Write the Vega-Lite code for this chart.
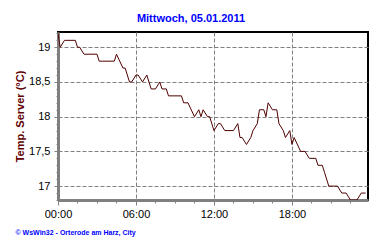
{
  "$schema": "https://vega.github.io/schema/vega-lite/v6.json",
  "width": 310,
  "height": 168,
  "autosize": {"type": "none"},
  "padding": {"left": 58, "top": 32, "right": 12, "bottom": 45},
  "background": "white",
  "title": {
    "text": "Mittwoch, 05.01.2011",
    "color": "#0000FF",
    "font": "Liberation Sans",
    "fontSize": 11,
    "fontWeight": "bold",
    "anchor": "middle",
    "frame": "group",
    "dx": -22,
    "dy": 16,
    "offset": 10,
    "baseline": "alphabetic"
  },
  "config": {"view": {"stroke": "#000000", "strokeWidth": 2}},
  "data": {
    "values": [
      {"min": 0, "temp": 19.2},
      {"min": 10, "temp": 19.0},
      {"min": 30, "temp": 19.1},
      {"min": 80, "temp": 19.1},
      {"min": 90, "temp": 19.0},
      {"min": 100, "temp": 19.0},
      {"min": 120, "temp": 18.9},
      {"min": 180, "temp": 18.9},
      {"min": 190, "temp": 18.8},
      {"min": 260, "temp": 18.8},
      {"min": 270, "temp": 18.9},
      {"min": 300, "temp": 18.7},
      {"min": 310, "temp": 18.7},
      {"min": 330, "temp": 18.5},
      {"min": 340, "temp": 18.5},
      {"min": 360, "temp": 18.6},
      {"min": 370, "temp": 18.6},
      {"min": 390, "temp": 18.5},
      {"min": 410, "temp": 18.6},
      {"min": 430, "temp": 18.4},
      {"min": 450, "temp": 18.4},
      {"min": 470, "temp": 18.5},
      {"min": 480, "temp": 18.4},
      {"min": 500, "temp": 18.4},
      {"min": 510, "temp": 18.3},
      {"min": 570, "temp": 18.3},
      {"min": 580, "temp": 18.2},
      {"min": 600, "temp": 18.2},
      {"min": 630, "temp": 18.0},
      {"min": 650, "temp": 18.1},
      {"min": 660, "temp": 18.0},
      {"min": 670, "temp": 18.1},
      {"min": 690, "temp": 18.0},
      {"min": 700, "temp": 18.0},
      {"min": 720, "temp": 17.8},
      {"min": 740, "temp": 17.9},
      {"min": 750, "temp": 17.9},
      {"min": 770, "temp": 17.8},
      {"min": 810, "temp": 17.8},
      {"min": 830, "temp": 17.9},
      {"min": 840, "temp": 17.7},
      {"min": 850, "temp": 17.7},
      {"min": 870, "temp": 17.6},
      {"min": 890, "temp": 17.7},
      {"min": 900, "temp": 17.8},
      {"min": 920, "temp": 17.9},
      {"min": 930, "temp": 18.1},
      {"min": 950, "temp": 18.1},
      {"min": 960, "temp": 18.0},
      {"min": 970, "temp": 18.2},
      {"min": 990, "temp": 18.1},
      {"min": 1010, "temp": 18.1},
      {"min": 1020, "temp": 17.9},
      {"min": 1040, "temp": 17.8},
      {"min": 1050, "temp": 17.7},
      {"min": 1070, "temp": 17.8},
      {"min": 1080, "temp": 17.6},
      {"min": 1090, "temp": 17.7},
      {"min": 1120, "temp": 17.5},
      {"min": 1140, "temp": 17.5},
      {"min": 1160, "temp": 17.4},
      {"min": 1190, "temp": 17.4},
      {"min": 1200, "temp": 17.3},
      {"min": 1220, "temp": 17.3},
      {"min": 1230, "temp": 17.2},
      {"min": 1250, "temp": 17.0},
      {"min": 1290, "temp": 17.0},
      {"min": 1310, "temp": 16.9},
      {"min": 1330, "temp": 16.9},
      {"min": 1350, "temp": 16.8},
      {"min": 1380, "temp": 16.8},
      {"min": 1400, "temp": 16.9},
      {"min": 1420, "temp": 16.9}
    ]
  },
  "mark": {"type": "line", "color": "#500000", "strokeWidth": 1, "clip": true},
  "encoding": {
    "x": {
      "field": "min",
      "type": "quantitative",
      "scale": {"domain": [0, 1431], "nice": false, "zero": false},
      "axis": {
        "values": [0, 90, 180, 270, 360, 450, 540, 630, 720, 810, 900, 990, 1080, 1170, 1260, 1350],
        "labelExpr": "datum.value % 360 == 0 ? (datum.value < 600 ? '0' : '') + (datum.value / 60) + ':00' : ''",
        "labelFont": "Liberation Sans",
        "labelFontSize": 11,
        "labelColor": "#000000",
        "labelPadding": 3,
        "labelOverlap": false,
        "labelFlush": false,
        "labelBound": false,
        "tickSize": {"condition": {"test": "datum.value % 360 == 0", "value": 5}, "value": 3},
        "tickColor": "#808080",
        "tickWidth": 1,
        "domainColor": "#808080",
        "domainWidth": 3,
        "grid": true,
        "gridColor": "#808080",
        "gridDash": [4, 2],
        "gridWidth": 1,
        "gridOpacity": {"condition": {"test": "datum.value % 360 == 0", "value": 1}, "value": 0},
        "title": "© WsWin32 - Orterode am Harz, City",
        "titleX": -43,
        "titleY": 34,
        "titleAlign": "left",
        "titleBaseline": "alphabetic",
        "titleColor": "#0000FF",
        "titleFont": "Liberation Sans",
        "titleFontSize": 7,
        "titleFontWeight": "bold"
      }
    },
    "y": {
      "field": "temp",
      "type": "quantitative",
      "scale": {"domain": [16.8, 19.22], "nice": false, "zero": false},
      "axis": {
        "values": [16.8, 16.9, 17, 17.1, 17.2, 17.3, 17.4, 17.5, 17.6, 17.7, 17.8, 17.9, 18, 18.1, 18.2, 18.3, 18.4, 18.5, 18.6, 18.7, 18.8, 18.9, 19, 19.1, 19.2],
        "labelExpr": "abs(datum.value * 2 - round(datum.value * 2)) < 0.01 ? replace(format(datum.value, '~g'), '.', ',') : ''",
        "labelFont": "Liberation Sans",
        "labelFontSize": 11,
        "labelColor": "#000000",
        "labelPadding": 4,
        "labelOverlap": false,
        "labelFlush": false,
        "labelBound": false,
        "tickSize": {"condition": {"test": "abs(datum.value * 2 - round(datum.value * 2)) < 0.01", "value": 4}, "value": 2},
        "tickColor": "#808080",
        "tickWidth": 1,
        "domainColor": "#808080",
        "domainWidth": 3,
        "grid": true,
        "gridColor": "#808080",
        "gridDash": [4, 2],
        "gridWidth": 1,
        "gridOpacity": {"condition": {"test": "abs(datum.value * 2 - round(datum.value * 2)) < 0.01", "value": 1}, "value": 0},
        "title": "Temp. Server (°C)",
        "titleX": -35,
        "titleY": 84,
        "titleAngle": -90,
        "titleAlign": "center",
        "titleBaseline": "alphabetic",
        "titleColor": "#600000",
        "titleFont": "Liberation Sans",
        "titleFontSize": 11,
        "titleFontWeight": "bold"
      }
    }
  }
}
